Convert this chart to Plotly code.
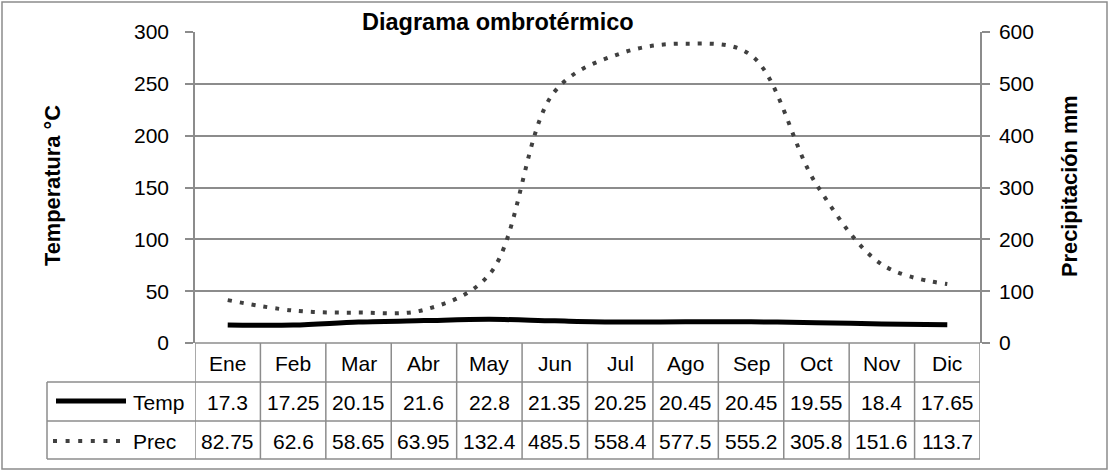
import plotly.graph_objects as go

months = ["Ene", "Feb", "Mar", "Abr", "May", "Jun", "Jul", "Ago", "Sep", "Oct", "Nov", "Dic"]
temp = [17.3, 17.25, 20.15, 21.6, 22.8, 21.35, 20.25, 20.45, 20.45, 19.55, 18.4, 17.65]
prec = [82.75, 62.6, 58.65, 63.95, 132.4, 485.5, 558.4, 577.5, 555.2, 305.8, 151.6, 113.7]
temp_ticks = [0, 50, 100, 150, 200, 250, 300]
prec_ticks = [0, 100, 200, 300, 400, 500, 600]

W, H = 1110, 472
L, R, T, B = 195, 980, 32, 343
FONT = "Liberation Sans, Arial, sans-serif"
GRID = "#8c8c8c"
DOT = "#404040"
DASH = "4px,8px"


def px(x):
    return (x - L) / (R - L)


def py(y):
    return (B - y) / (B - T)


fig = go.Figure()
fig.add_trace(go.Scatter(x=months, y=temp, name="Temp", mode="lines",
                         line=dict(color="black", width=5, shape="spline", smoothing=1),
                         yaxis="y"))
fig.add_trace(go.Scatter(x=months, y=prec, name="Prec", mode="lines",
                         line=dict(color=DOT, width=4, shape="spline", smoothing=1,
                                   dash=DASH),
                         yaxis="y2"))

shapes = []
ln = dict(color=GRID, width=1.5)
# outer border
shapes.append(dict(type="rect", xref="paper", yref="paper", x0=px(2), x1=px(1107),
                   y0=py(2), y1=py(469), line=dict(color=GRID, width=1.5), layer="below"))
# table horizontal lines
for yy in [382, 421, 459]:
    shapes.append(dict(type="line", xref="paper", yref="paper", x0=px(47), x1=px(R),
                       y0=py(yy), y1=py(yy), line=ln))
shapes.append(dict(type="line", xref="paper", yref="paper", x0=px(L), x1=px(R),
                   y0=py(B), y1=py(B), line=ln))
shapes.append(dict(type="line", xref="paper", yref="paper", x0=px(47), x1=px(47),
                   y0=py(382), y1=py(459), line=ln))
# table vertical lines at category boundaries
for i in range(len(months) + 1):
    shapes.append(dict(type="line", xref="x", yref="paper", x0=i - 0.5, x1=i - 0.5,
                       y0=py(B), y1=py(459), line=ln))
# legend keys
shapes.append(dict(type="line", xref="paper", yref="paper", x0=px(56), x1=px(126),
                   y0=py(401), y1=py(401), line=dict(color="black", width=5)))
shapes.append(dict(type="line", xref="paper", yref="paper", x0=px(53), x1=px(121),
                   y0=py(441), y1=py(441), line=dict(color=DOT, width=4, dash="4px,8.6px")))

ann = []
tfont = dict(family=FONT, size=21, color="black")
for i, m in enumerate(months):
    ann.append(dict(x=m, y=py(363), xref="x", yref="paper", text=m, showarrow=False,
                    font=tfont, xanchor="center", yanchor="middle"))
    ann.append(dict(x=m, y=py(402), xref="x", yref="paper", text=f"{temp[i]:g}",
                    showarrow=False, font=tfont, xanchor="center", yanchor="middle"))
    ann.append(dict(x=m, y=py(441), xref="x", yref="paper", text=f"{prec[i]:g}",
                    showarrow=False, font=tfont, xanchor="center", yanchor="middle"))
ann.append(dict(x=px(131), y=py(402), xref="paper", yref="paper", text="Temp",
                showarrow=False, font=tfont, xanchor="left", yanchor="middle"))
ann.append(dict(x=px(131), y=py(441), xref="paper", yref="paper", text="Prec",
                showarrow=False, font=tfont, xanchor="left", yanchor="middle"))
ann.append(dict(x=px(498), y=py(22), xref="paper", yref="paper",
                text="<b>Diagrama ombrotérmico</b>", showarrow=False,
                font=dict(family=FONT, size=23.5, color="black"), xanchor="center", yanchor="middle"))
ann.append(dict(x=px(52), y=py(186), xref="paper", yref="paper",
                text="<b>Temperatura °C</b>", showarrow=False, textangle=-90,
                font=dict(family=FONT, size=21.8, color="black"), xanchor="center", yanchor="middle"))
ann.append(dict(x=px(1069), y=py(186), xref="paper", yref="paper",
                text="<b>Precipitación mm</b>", showarrow=False, textangle=-90,
                font=dict(family=FONT, size=21.8, color="black"), xanchor="center", yanchor="middle"))

fig.update_layout(
    width=W, height=H,
    margin=dict(l=L, r=W - R, t=T, b=H - B, pad=0, autoexpand=False),
    paper_bgcolor="white", plot_bgcolor="white",
    showlegend=False,
    shapes=shapes, annotations=ann,
    xaxis=dict(type="category", range=[-0.5, len(months) - 0.5], showticklabels=False,
               showgrid=False, zeroline=False, showline=False, ticks=""),
    yaxis=dict(range=[0, 300], tickvals=temp_ticks, showgrid=True, gridcolor=GRID, gridwidth=1.5,
               zeroline=False, showline=True, linecolor=GRID, linewidth=1.5,
               ticks="outside", ticklen=8, tickcolor=GRID, tickwidth=1.5,
               ticklabelstandoff=12,
               tickfont=dict(family=FONT, size=21, color="black")),
    yaxis2=dict(range=[0, 600], tickvals=prec_ticks, overlaying="y", side="right",
                showgrid=False, zeroline=False, showline=True, linecolor=GRID, linewidth=1.5,
                ticks="outside", ticklen=8, tickcolor=GRID, tickwidth=1.5,
                ticklabelstandoff=5,
                tickfont=dict(family=FONT, size=21, color="black")),
)

fig.write_html("out.html", config={"displayModeBar": False},
               post_script="document.body.style.margin='0';")
